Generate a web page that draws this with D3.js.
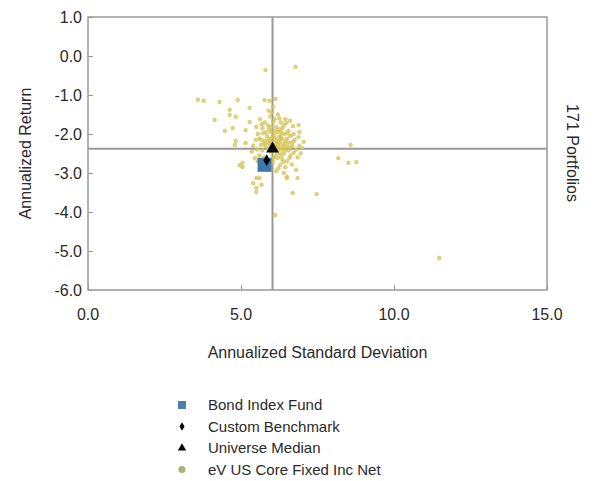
<!DOCTYPE html>
<html>
<head>
<meta charset="utf-8">
<script src="https://cdn.jsdelivr.net/npm/d3@7"></script>
<style>
  body { margin: 0; background: #fff; }
  text { font-family: "Liberation Sans", Arial, sans-serif; fill: #2a2a2a; }
</style>
</head>
<body>
<div id="chart"></div>
<script>
// ticks
const xTicks = [0, 5, 10, 15];
const yTicks = [1, 0, -1, -2, -3, -4, -5, -6];

// medians of the universe (crosshair)
const medianRisk = 6.03;
const medianReturn = -2.38;

// highlighted series: [std dev, return]
const bondIndexFund = [5.77, -2.79];
const customBenchmark = [5.84, -2.67];
const universeMedian = [6.03, -2.38];

// eV US Core Fixed Inc Net universe
const universe = [
  [5.80,-0.36],[6.78,-0.28],
  [3.59,-1.12],[3.78,-1.15],[4.30,-1.18],[4.89,-1.13],[5.77,-1.13],[5.93,-1.15],[6.12,-1.10],
  [4.63,-1.38],[5.28,-1.33],[4.83,-1.56],[4.14,-1.64],[4.73,-1.85],[4.47,-1.92],[5.15,-1.90],
  [5.28,-1.69],[4.63,-1.51],[4.83,-2.18],[5.15,-2.23],[4.80,-2.28],
  [6.88,-1.77],[6.91,-1.95],[8.58,-2.28],[8.18,-2.62],[8.51,-2.74],[8.77,-2.72],
  [7.47,-3.54],[11.48,-5.18],[6.12,-4.08],[6.69,-3.51],[5.50,-3.49],[5.40,-3.26],
  [4.96,-2.80],[5.05,-2.85],[5.05,-2.74],[5.50,-3.13],[5.50,-3.38],[5.60,-3.13],[5.67,-3.30],
  [6.80,-2.92],[6.85,-3.13],[6.50,-3.10],[6.40,-3.00],[6.49,-3.13],
  [6.00,-1.45],[6.05,-1.30],[5.90,-1.40],[6.20,-1.50],[6.10,-1.62],
  [5.62,-1.62],[5.95,-1.55],[6.25,-1.60],[6.48,-1.72],[6.70,-1.80],[5.70,-1.85],
  [5.88,-1.78],[6.05,-1.70],[6.15,-1.82],[6.35,-1.85],[6.55,-1.92],[6.62,-2.05],
  [5.55,-2.00],[5.72,-1.98],[5.85,-2.05],[5.98,-1.95],[6.08,-2.02],[6.20,-1.95],
  [6.30,-2.05],[6.42,-2.00],[6.50,-2.12],[6.75,-2.15],[5.48,-2.15],[5.60,-2.12],
  [5.78,-2.18],[5.90,-2.12],[6.00,-2.20],[6.10,-2.10],[6.18,-2.22],[6.28,-2.15],
  [6.38,-2.25],[6.58,-2.22],[6.68,-2.30],[5.65,-2.28],[5.80,-2.30],[5.95,-2.25],
  [6.05,-2.32],[6.22,-2.30],[6.32,-2.38],[6.45,-2.35],[6.55,-2.42],[6.80,-2.40],
  [5.52,-2.40],[5.70,-2.42],[5.88,-2.38],[6.00,-2.45],[6.15,-2.40],[6.25,-2.48],
  [6.40,-2.50],[6.62,-2.55],[5.60,-2.55],[5.75,-2.60],[6.10,-2.58],[6.20,-2.62],
  [6.35,-2.65],[6.50,-2.70],[5.45,-2.62],[6.05,-2.72],[6.28,-2.80],[6.45,-2.85],
  [5.85,-2.90],[6.15,-2.95],[5.35,-2.45],[5.40,-2.30],[6.90,-2.30],[6.95,-2.50],
  [7.05,-2.20],[6.85,-2.60],[5.92,-1.88],[6.12,-1.92],[6.25,-1.88],[6.40,-1.78],
  [5.82,-1.95],[6.02,-2.08],[6.14,-2.16],[6.24,-2.08],[6.34,-2.12],[6.46,-2.18],
  [5.94,-2.18],[6.06,-2.26],[6.16,-2.28],[6.26,-2.22],[6.36,-2.32],[5.74,-2.24],
  [5.86,-2.22],[5.96,-2.32],[6.12,-2.34],[6.20,-2.38],[6.42,-2.42],[6.60,-2.35],
  [5.66,-2.15],[6.52,-1.98],[6.72,-2.00],[6.30,-1.70],[5.78,-1.70],[6.58,-2.62],
  [6.72,-2.48],[6.30,-2.56],[5.55,-2.70],[6.66,-2.78],[6.22,-2.88],[6.38,-2.72],
  [5.68,-1.75],[6.45,-1.62],[6.60,-1.66],[5.50,-1.82],[6.88,-2.08],[7.00,-2.36],
  [6.18,-2.50],[6.05,-2.62],[6.32,-1.96],[5.98,-1.82],[6.50,-2.28],[6.70,-2.20]
];

const W = 595, H = 481;
const svg = d3.select("#chart").append("svg")
  .attr("width", W).attr("height", H);

const x = d3.scaleLinear().domain([0, 15]).range([88, 547]);
const y = d3.scaleLinear().domain([-6, 1]).range([290, 17]);

const grey = "#999";

// crosshair
svg.append("line")
  .attr("x1", x(medianRisk)).attr("x2", x(medianRisk))
  .attr("y1", y(1)).attr("y2", y(-6))
  .attr("stroke", grey).attr("stroke-width", 2);
svg.append("line")
  .attr("x1", x(0)).attr("x2", x(15))
  .attr("y1", y(medianReturn)).attr("y2", y(medianReturn))
  .attr("stroke", grey).attr("stroke-width", 2);

// frame
svg.append("rect")
  .attr("x", x(0)).attr("y", y(1))
  .attr("width", x(15) - x(0)).attr("height", y(-6) - y(1))
  .attr("fill", "none").attr("stroke", grey).attr("stroke-width", 1.5);

// axes: inward ticks
const yAxis = svg.append("g")
  .attr("transform", `translate(${x(0)},0)`)
  .call(d3.axisRight(y).tickValues(yTicks).tickSize(5).tickFormat(""));
yAxis.select(".domain").remove();
yAxis.selectAll("line").attr("stroke", grey);

const xAxis = svg.append("g")
  .attr("transform", `translate(0,${y(-6)})`)
  .call(d3.axisTop(x).tickValues(xTicks).tickSize(5).tickFormat(""));
xAxis.select(".domain").remove();
xAxis.selectAll("line").attr("stroke", grey);

// tick labels
svg.selectAll(".ylab").data(yTicks).enter().append("text")
  .attr("x", x(0) - 6).attr("y", d => y(d) + 6)
  .attr("text-anchor", "end")
  .style("font-size", "16px")
  .text(d => d3.format(".1f")(d).replace("−", "-"));

svg.selectAll(".xlab").data(xTicks).enter().append("text")
  .attr("x", d => x(d)).attr("y", y(-6) + 30)
  .attr("text-anchor", "middle")
  .style("font-size", "16px")
  .text(d => d3.format(".1f")(d));

// axis titles
svg.append("text")
  .attr("transform", `translate(31,${(y(1) + y(-6)) / 2}) rotate(-90)`)
  .attr("text-anchor", "middle")
  .style("font-size", "16px")
  .text("Annualized Return");

svg.append("text")
  .attr("x", (x(0) + x(15)) / 2).attr("y", 358)
  .attr("text-anchor", "middle")
  .style("font-size", "16px")
  .text("Annualized Standard Deviation");

svg.append("text")
  .attr("transform", `translate(567,153) rotate(90)`)
  .attr("text-anchor", "middle")
  .style("font-size", "16px")
  .text("171 Portfolios");

// universe points
svg.selectAll(".u").data(universe).enter().append("circle")
  .attr("cx", d => x(d[0])).attr("cy", d => y(d[1]))
  .attr("r", 1.9)
  .attr("fill", "#dccb5e")
  .attr("stroke", "#cbb94c").attr("stroke-width", 0.5)
  .attr("opacity", 0.85);

// highlighted symbols
svg.append("rect")
  .attr("x", x(bondIndexFund[0]) - 7).attr("y", y(bondIndexFund[1]) - 7)
  .attr("width", 14).attr("height", 14)
  .attr("fill", "#4077ab");

svg.append("path")
  .attr("transform", `translate(${x(customBenchmark[0])},${y(customBenchmark[1])})`)
  .attr("d", d3.symbol(d3.symbolDiamond, 40))
  .attr("fill", "#000");

svg.append("path")
  .attr("transform", `translate(${x(universeMedian[0])},${y(universeMedian[1])})`)
  .attr("d", d3.symbol(d3.symbolTriangle, 70))
  .attr("fill", "#000");

// legend
const legendItems = [
  { label: "Bond Index Fund", shape: "square", color: "#4f7fae" },
  { label: "Custom Benchmark", shape: "diamond", color: "#000" },
  { label: "Universe Median", shape: "triangle", color: "#000" },
  { label: "eV US Core Fixed Inc Net", shape: "circle", color: "#aab27e" }
];
const lg = svg.append("g");
legendItems.forEach((d, i) => {
  const cy = 405 + i * 21.5;
  if (d.shape === "square") {
    lg.append("rect").attr("x", 178).attr("y", cy - 4).attr("width", 8).attr("height", 8).attr("fill", d.color);
  } else {
    const t = { diamond: d3.symbolDiamond, triangle: d3.symbolTriangle, circle: d3.symbolCircle }[d.shape];
    const s = { diamond: 22, triangle: 30, circle: 40 }[d.shape];
    lg.append("path")
      .attr("transform", `translate(182,${cy})`)
      .attr("d", d3.symbol(t, s))
      .attr("fill", d.color);
  }
  lg.append("text")
    .attr("x", 208).attr("y", cy + 5)
    .style("font-size", "15px")
    .text(d.label);
});
</script>
</body>
</html>
